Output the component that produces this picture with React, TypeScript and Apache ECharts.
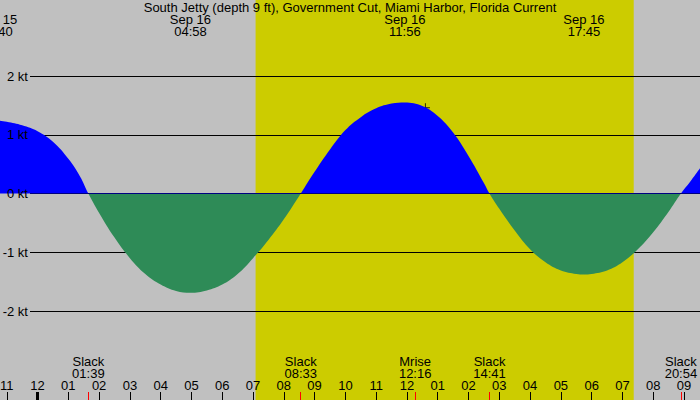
import React, { useEffect, useRef } from 'react';
import * as echarts from 'echarts';

// Tidal current, hours from midnight Sep 16 (negative = Sep 15 evening), speed in knots
const hours = [
  -1.25, -1.0, -0.5, 0, 0.5, 1.0, 1.38, 1.65, 2.0, 2.5, 3.0, 3.5, 4.0, 4.5, 4.97,
  5.5, 6.0, 6.5, 7.0, 7.5, 8.0, 8.55, 9.0, 9.5, 10.0, 10.5, 11.0, 11.5, 11.93,
  12.5, 13.0, 13.5, 14.0, 14.5, 14.68, 15.0, 15.5, 16.0, 16.5, 17.0, 17.5, 17.75,
  18.0, 18.5, 19.0, 19.5, 20.0, 20.5, 20.9, 21.2, 21.55,
];
const knots = [
  1.24, 1.22, 1.16, 1.06, 0.88, 0.59, 0.29, 0, -0.33, -0.75, -1.1, -1.37, -1.55, -1.66, -1.69,
  -1.65, -1.55, -1.37, -1.1, -0.79, -0.44, 0, 0.37, 0.75, 1.08, 1.3, 1.45, 1.53, 1.55,
  1.49, 1.32, 1.04, 0.64, 0.18, 0, -0.26, -0.63, -0.95, -1.17, -1.31, -1.37, -1.38,
  -1.37, -1.31, -1.17, -0.95, -0.66, -0.31, 0, 0.2, 0.45,
];

const hourTicks = [-1, 0, 1, 2, 3, 4, 5, 6, 7, 8, 9, 10, 11, 12, 13, 14, 15, 16, 17, 18, 19, 20, 21];
const midnightTicks = [0];
const eventTicks = [1.65, 8.55, 12.267, 14.683, 20.9]; // slacks + moonrise

const sunrise = 7.083;
const sunset = 19.367;
const marker = [12.6, 1.46];

const topHours = [-1.333, 4.967, 11.933, 17.75];
const topDates = ['Sep 15', 'Sep 16', 'Sep 16', 'Sep 16'];
const topTimes = ['22:40', '04:58', '11:56', '17:45'];

const bottomHours = [1.65, 8.55, 12.267, 14.683, 20.9];
const bottomNames = ['Slack', 'Slack', 'Mrise', 'Slack', 'Slack'];
const bottomTimes = ['01:39', '08:33', '12:16', '14:41', '20:54'];

const TITLE = 'South Jetty (depth 9 ft), Government Cut, Miami Harbor, Florida Current';
const FONT_FAMILY = '"Liberation Sans", Arial, sans-serif';
const FONT_SIZE = 13;
const FONT = `${FONT_SIZE}px ${FONT_FAMILY}`;
const FLOOD = '#0000ff';
const EBB = '#2e8b57';
const X_MIN = -1.22;
const X_MAX = 21.52;
const WIDTH = 700;
const HEIGHT = 400;

const hourLabel = (v: number) => {
  const h = ((Math.round(v) % 12) + 12) % 12;
  return h === 0 ? '12' : String(h).padStart(2, '0');
};

const fullGrid = { left: 0, right: 0, top: 0, bottom: 0, outerBoundsMode: 'none' };
const ktGrid = { left: 30, right: 0, top: 76, bottom: 89, outerBoundsMode: 'none' };

const tickAxis = (gridIndex: number, values: number[], color: string, width: number, labels: boolean) => ({
  gridIndex,
  type: 'value',
  min: X_MIN,
  max: X_MAX,
  position: 'bottom',
  axisLine: { show: false },
  splitLine: { show: false },
  axisTick: { show: true, inside: true, length: 8, customValues: values, lineStyle: { color, width } },
  axisLabel: {
    show: labels,
    inside: true,
    margin: 8,
    customValues: values,
    formatter: hourLabel,
    color: '#000',
    fontSize: FONT_SIZE,
    fontFamily: FONT_FAMILY,
  },
});

const App: React.FC = () => {
  const chartRef = useRef<HTMLDivElement>(null);

  useEffect(() => {
    if (!chartRef.current) return;
    const chart = echarts.init(chartRef.current, undefined, { renderer: 'svg' });

    const option: any = {
      animation: false,
      backgroundColor: '#c0c0c0',
      grid: [
        { left: 0, right: 0, top: 76, bottom: 89, outerBoundsMode: 'none' }, // current curve
        ktGrid, // kt grid lines (under the curve)
        fullGrid, // daylight + hour ticks
        fullGrid, // event ticks
        fullGrid, // midnight tick
        ktGrid, // kt labels (over the curve)
      ],
      xAxis: [
        { gridIndex: 0, type: 'value', min: X_MIN, max: X_MAX, show: false },
        { gridIndex: 1, type: 'value', min: X_MIN, max: X_MAX, show: false },
        tickAxis(2, hourTicks, '#000', 1, true),
        tickAxis(3, eventTicks, '#ff0000', 1, false),
        tickAxis(4, midnightTicks, '#000', 3, false),
        { gridIndex: 5, type: 'value', min: X_MIN, max: X_MAX, show: false },
      ],
      yAxis: [
        { gridIndex: 0, type: 'value', min: -2, max: 2, show: false },
        {
          gridIndex: 1,
          type: 'value',
          min: -2,
          max: 2,
          interval: 1,
          axisLine: { show: false },
          axisTick: { show: false },
          axisLabel: { show: false },
          splitLine: { show: true, lineStyle: { color: '#000', width: 1 } },
        },
        { gridIndex: 2, type: 'value', min: 0, max: 1, show: false },
        { gridIndex: 3, type: 'value', min: 0, max: 1, show: false },
        { gridIndex: 4, type: 'value', min: 0, max: 1, show: false },
        {
          gridIndex: 5,
          type: 'value',
          min: -2,
          max: 2,
          interval: 1,
          z: 10,
          axisLine: { show: false },
          axisTick: { show: false },
          splitLine: { show: false },
          axisLabel: {
            margin: 2,
            formatter: (v: number) => `${v} kt`,
            color: '#000',
            fontSize: FONT_SIZE,
            fontFamily: FONT_FAMILY,
          },
        },
      ],
      series: [
        {
          type: 'custom',
          xAxisIndex: 2,
          yAxisIndex: 2,
          z: -1,
          silent: true,
          encode: { x: [0, 1] },
          data: [[sunrise, sunset]],
          renderItem: (params: any, api: any) => {
            const a = api.coord([api.value(0), 0]);
            const b = api.coord([api.value(1), 0]);
            return {
              type: 'rect',
              shape: { x: a[0], y: params.coordSys.y, width: b[0] - a[0], height: params.coordSys.height },
              style: { fill: '#cccc00' },
            };
          },
        },
        {
          id: 'current',
          type: 'line',
          xAxisIndex: 0,
          yAxisIndex: 0,
          data: hours.map((h, i) => [h, knots[i]]),
          smooth: 0.4,
          symbol: 'none',
          lineStyle: { width: 0 },
          areaStyle: { opacity: 1, color: FLOOD },
          silent: true,
        },
        {
          type: 'scatter',
          xAxisIndex: 0,
          yAxisIndex: 0,
          data: [marker],
          symbol: 'path://M0,4.5L9,4.5M4.5,0L4.5,9',
          symbolSize: 9,
          itemStyle: { color: 'none', borderColor: '#000', borderWidth: 1 },
          silent: true,
        },
      ],
    };

    chart.setOption(option);

    // flood above the zero line, ebb below it
    const zeroY = chart.convertToPixel({ yAxisIndex: 0 }, 0) as unknown as number;
    const split = zeroY / HEIGHT;
    const fill = new echarts.graphic.LinearGradient(
      0, 0, 0, HEIGHT,
      [
        { offset: 0, color: FLOOD },
        { offset: split, color: FLOOD },
        { offset: split, color: EBB },
        { offset: 1, color: EBB },
      ],
      true,
    );

    // event texts placed at their times on the axis
    const px = (t: number) => chart.convertToPixel({ xAxisIndex: 0 }, t) as unknown as number;
    const graphic: any[] = [
      {
        type: 'text',
        x: WIDTH / 2,
        y: 1,
        style: { text: TITLE, font: FONT, fill: '#000', textAlign: 'center', textVerticalAlign: 'top' },
      },
    ];
    topHours.forEach((t, i) => {
      graphic.push({
        type: 'text',
        x: px(t),
        y: 13,
        style: {
          text: `${topDates[i]}\n${topTimes[i]}`,
          font: FONT,
          lineHeight: 12,
          fill: '#000',
          textAlign: 'center',
          textVerticalAlign: 'top',
        },
      });
    });
    bottomHours.forEach((t, i) => {
      graphic.push({
        type: 'text',
        x: px(t),
        y: 355,
        style: {
          text: `${bottomNames[i]}\n${bottomTimes[i]}`,
          font: FONT,
          lineHeight: 12,
          fill: '#000',
          textAlign: 'center',
          textVerticalAlign: 'top',
        },
      });
    });
    chart.setOption({ graphic, series: [{ id: 'current', areaStyle: { opacity: 1, color: fill } }] });

    return () => {
      chart.dispose();
    };
  }, []);

  return (
    <div
      ref={chartRef}
      style={{ position: 'fixed', left: 0, top: 0, width: `${WIDTH}px`, height: `${HEIGHT}px` }}
    />
  );
};

export default App;
